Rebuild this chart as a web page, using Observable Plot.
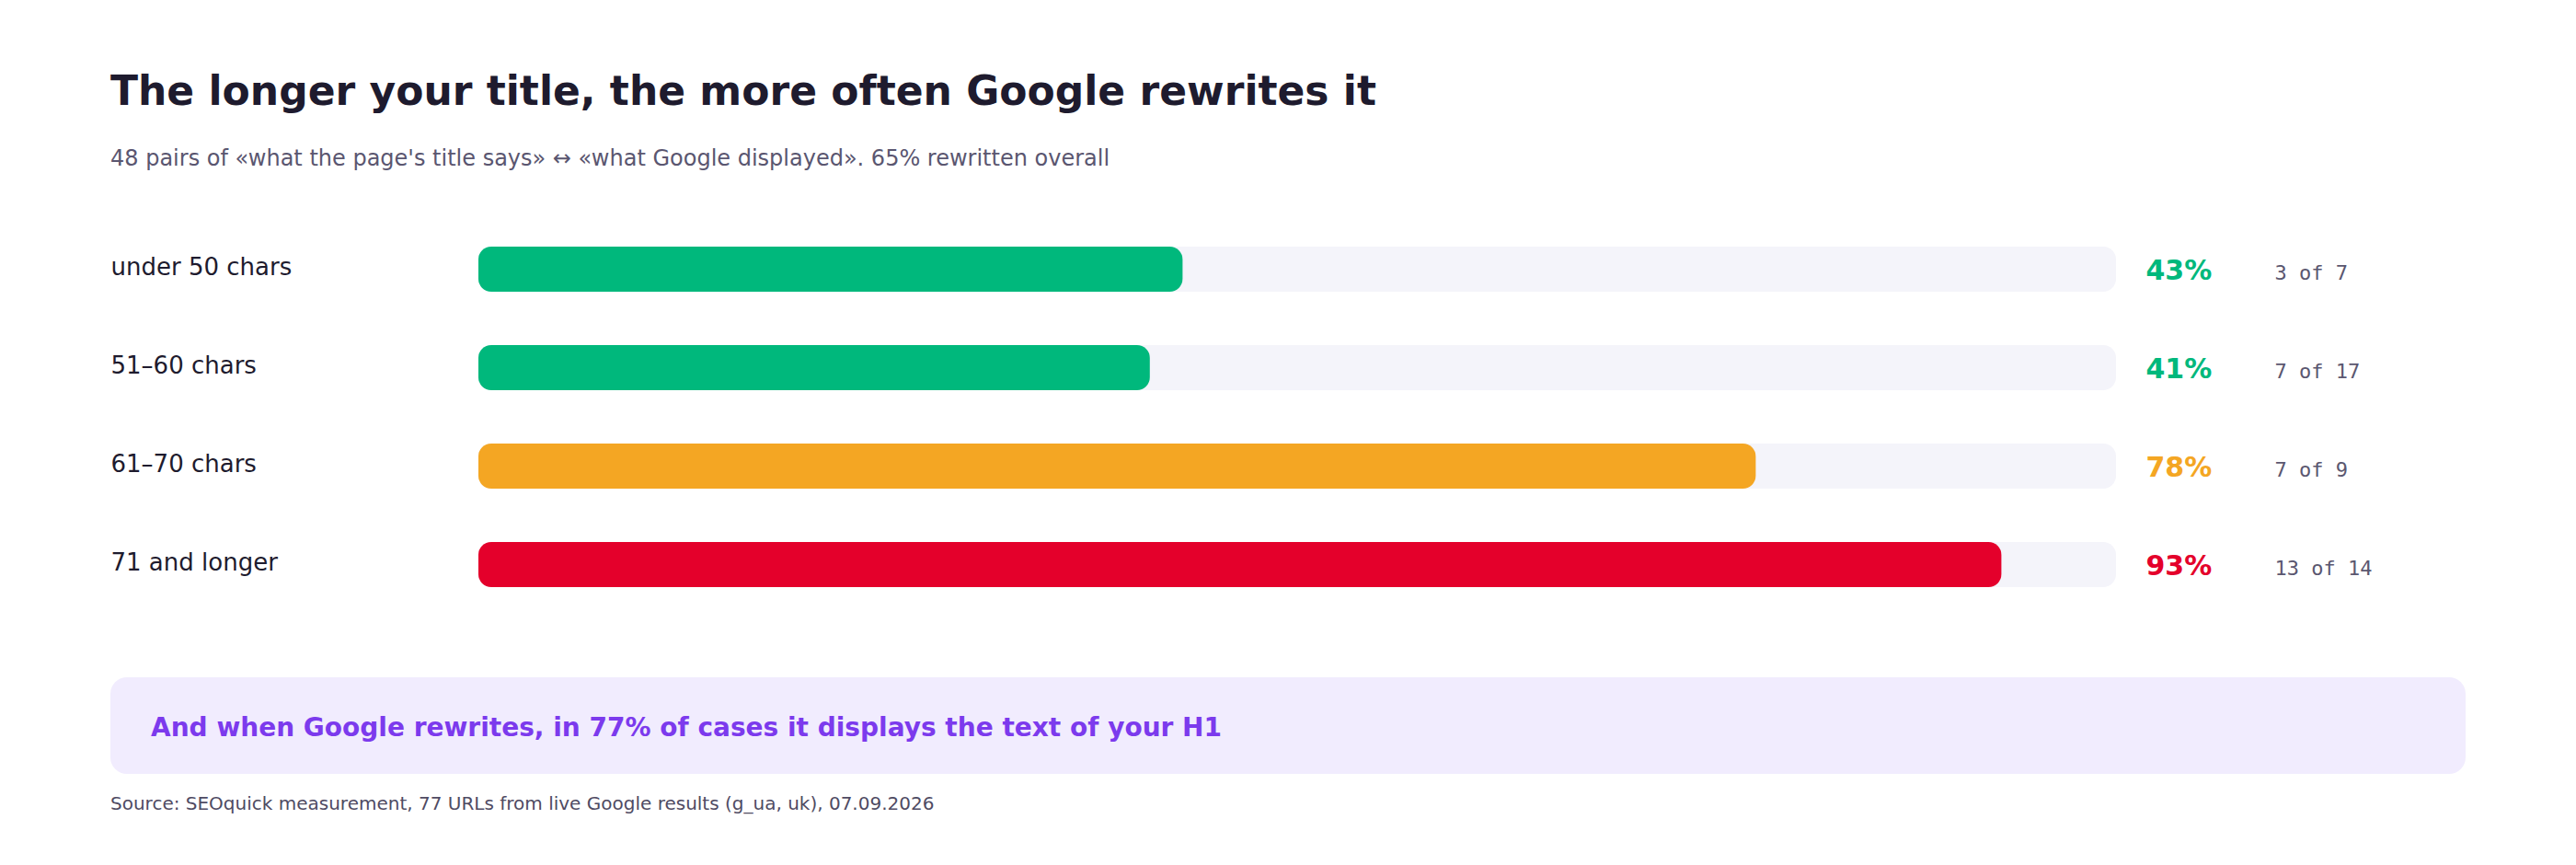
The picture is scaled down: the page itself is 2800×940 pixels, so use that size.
<!DOCTYPE html>
<html>
<head>
<meta charset="utf-8">
<script src="https://cdn.jsdelivr.net/npm/d3@7"></script>
<script src="https://cdn.jsdelivr.net/npm/@observablehq/plot@0.6"></script>
<style>
  html, body { margin: 0; padding: 0; background: #ffffff; }
  #page { position: relative; width: 2800px; height: 940px; background: #ffffff; font-family: "DejaVu Sans", sans-serif; overflow: hidden; }
  .abs { position: absolute; white-space: nowrap; }
  #title { left: 120px; top: 77px; font-size: 44px; line-height: 44px; font-weight: bold; color: #1e1b2e; }
  #subtitle { left: 120px; top: 160px; font-size: 24px; line-height: 24px; color: #5a5670; }
  #chart { left: 0; top: 219px; }
  #callout { left: 120px; top: 736px; width: 2560px; height: 105px; border-radius: 18px; background: #f1ecfe; }
  #callout-text { left: 164px; top: 777px; font-size: 28px; line-height: 28px; font-weight: bold; color: #7c3aed; }
  #source { left: 120px; top: 863px; font-size: 20px; line-height: 20px; color: #4f4b63; }
</style>
</head>
<body>
<div id="page">
  <div id="title" class="abs">The longer your title, the more often Google rewrites it</div>
  <div id="subtitle" class="abs">48 pairs of «what the page's title says» ↔ «what Google displayed». 65% rewritten overall</div>
  <div id="chart" class="abs"></div>
  <div id="callout" class="abs"></div>
  <div id="callout-text" class="abs">And when Google rewrites, in 77% of cases it displays the text of your H1</div>
  <div id="source" class="abs">Source: SEOquick measurement, 77 URLs from live Google results (g_ua, uk), 07.09.2026</div>
</div>
<script>
// ---- data ----
const categories = ["under 50 chars", "51–60 chars", "61–70 chars", "71 and longer"];
const rewrittenPct = [43, 41, 78, 93];
const rewrittenCount = [3, 7, 7, 13];
const totalCount = [7, 17, 9, 14];
const scaleMax = 100;

// ---- styling (kept separate from data) ----
const tierThresholds = [50, 85];
const tierColors = ["#00b87c", "#f4a623", "#e4002b"];

const rows = categories.map((label, i) => ({
  label,
  pct: rewrittenPct[i],
  count: rewrittenCount[i],
  total: totalCount[i],
  max: scaleMax
}));

const chart = Plot.plot({
  width: 2800,
  height: 460,
  marginLeft: 520,
  marginRight: 500,
  marginTop: 0,
  marginBottom: 0,
  style: { fontFamily: "DejaVu Sans, sans-serif", background: "transparent", overflow: "visible" },
  x: { domain: [0, scaleMax], axis: null },
  y: { domain: categories, range: [47.5, 420.5], paddingInner: 0.546, paddingOuter: 0, axis: null },
  color: { type: "threshold", domain: tierThresholds, range: tierColors },
  marks: [
    Plot.barX(rows, { y: "label", x1: 0, x2: "max", fill: "#f4f4fa", rx: 14 }),
    Plot.barX(rows, { y: "label", x1: 0, x2: "pct", fill: "pct", rx: 14 }),
    Plot.text(rows, { y: "label", text: "label", frameAnchor: "left", dx: -400, dy: -2, textAnchor: "start", fontSize: 26, fill: "#1e1b2e" }),
    Plot.text(rows, { y: "label", text: d => d.pct + "%", frameAnchor: "right", dx: 32, dy: 1, textAnchor: "start", fontSize: 30, fontWeight: "bold", fill: "pct" }),
    Plot.text(rows, { y: "label", text: d => `${d.count} of ${d.total}`, frameAnchor: "right", dx: 172, dy: 3.5, textAnchor: "start", fontSize: 22, fontFamily: "DejaVu Sans Mono, monospace", fill: "#5b5770" })
  ]
});
document.getElementById("chart").appendChild(chart);
</script>
</body>
</html>
